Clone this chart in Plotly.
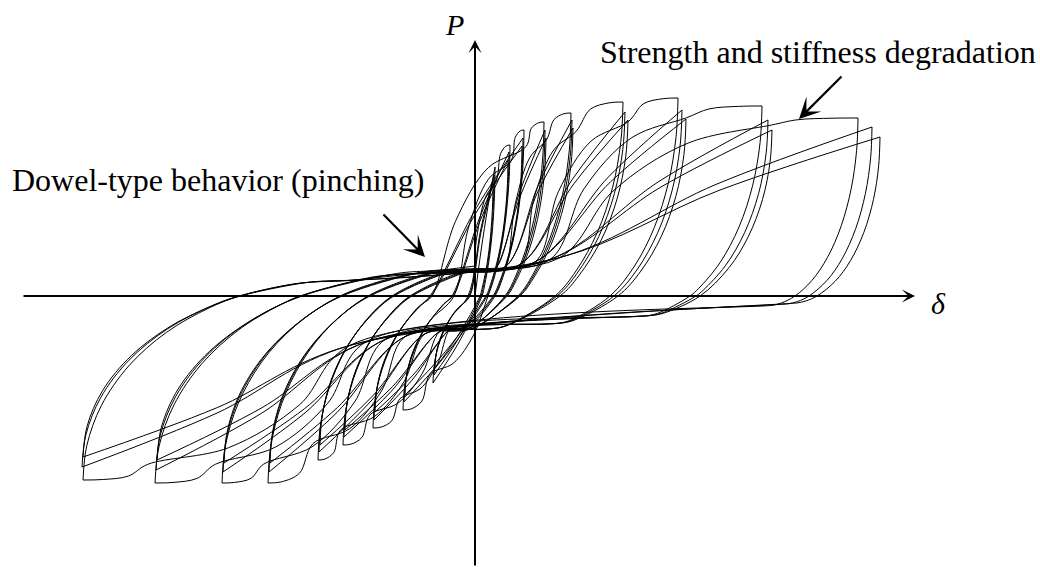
import math
import plotly.graph_objects as go

# Peak displacement / force for each drift level (three cycles per level)
POS_D = [[4.0, 3.8, 3.6], [7.0, 6.8, 6.6], [9.8, 9.6, 9.4], [13.8, 14.0, 14.2],
         [19.2, 19.4, 19.6], [29.6, 30.0, 30.6], [40.6, 41.4, 42.2],
         [57.4, 58.6, 59.4], [76.6, 79.4, 81.0]]
POS_P = [[25.8, 24.2, 22.8], [30.2, 28.8, 27.2], [33.2, 31.6, 30.0], [34.8, 33.2, 31.6],
         [36.6, 35.2, 33.6], [38.8, 36.8, 35.2], [39.6, 37.2, 35.4],
         [38.0, 35.2, 33.2], [35.6, 33.8, 31.8]]
NEG_D = [[-8.4, -8.2, -8.0], [-14.4, -14.2, -14.0], [-20.4, -20.2, -20.0],
         [-26.4, -26.2, -26.0], [-31.4, -31.2, -31.0], [-41.4, -41.2, -41.0],
         [-50.6, -50.4, -50.2], [-64.0, -63.8, -63.6], [-78.4, -78.6, -78.4]]
NEG_P = [[-17.4, -15.8, -14.4], [-22.8, -21.2, -19.8], [-26.4, -24.8, -23.2],
         [-29.8, -28.2, -26.8], [-32.8, -31.2, -29.8], [-37.4, -35.2, -33.4],
         [-37.4, -35.2, -33.4], [-37.4, -34.8, -32.8], [-36.8, -34.2, -32.2]]

# Zero-force crossings of the unloading branches
UNLOAD_POS_D0 = [1.4, 2.6, 4.0, 6.0, 8.6, 16.0, 27.0, 43.0, 64.0]
UNLOAD_NEG_D0 = [-1.4, -4.6, -9.0, -13.0, -16.6, -21.4, -27.0, -35.0, -47.0]

# Pinched (slip) plateaus: force at zero displacement and where reloading leaves them
PINCH_UP_P0 = [4.4, 4.6, 4.8, 5.0, 5.2, 5.4, 5.6, 5.8, 6.0]
PINCH_LO_P0 = [-5.8, -6.0, -6.2, -6.4, -6.6, -6.8, -7.0, -7.2, -7.5]
RELOAD_POS_D = [1.0, 2.0, 3.0, 4.0, 6.0, 9.0, 12.0, 15.0, 17.0]
RELOAD_NEG_D = [-1.5, -3.0, -5.0, -7.0, -10.0, -14.0, -18.0, -22.0, -25.0]

UP_SLOPE = 0.10
LO_SLOPE = 0.095


def half_branch(start, end, xc, p0, slope, dep, prev=None):
    """One half cycle in a frame where motion is towards +delta from a tip with P<0."""
    x0, y0 = start
    xs, ys = [x0], [y0]
    # unloading arc: quarter ellipse that crosses P=0 at xc and lands on the plateau
    x_end = xc
    for _ in range(3):
        yb = p0 + slope * x_end
        h = yb - y0
        s = min(-y0 / h, 0.985)
        th_c = math.asin(s)
        d = (xc - x0) / (1 - math.cos(th_c))
        x_end = x0 + d
    for deg in (10, 22, 35, 48, 60, 72, 82):
        th = math.radians(deg)
        if th < th_c - 0.06:
            xs.append(x0 + d * (1 - math.cos(th)))
            ys.append(y0 + h * math.sin(th))
    xs.append(xc)
    ys.append(0.0)
    if x_end < dep - 0.5:
        for deg in (80, 86, 90):
            th = math.radians(deg)
            if th > th_c + 0.06:
                xs.append(x0 + d * (1 - math.cos(th)))
                ys.append(y0 + h * math.sin(th))
        if end is None:
            xs.append(0.0)
            ys.append(p0)
            return xs, ys
        xs.append(dep)
        ys.append(p0 + slope * dep)
        xr, yr = dep, p0 + slope * dep
    else:
        xr, yr = xc, 0.0
    if end is None:
        return xs, ys
    xt, yt = end
    if prev is not None:
        # first excursion to a new level: rise along the backbone past the
        # previous peak, then a short softening plateau up to the new peak
        xp, yp = prev
        rx = xp + 0.1 * (xt - xp)
        ry = yp * 0.9
        xs += [xr + 0.25 * (rx - xr), xr + 0.6 * (rx - xr), rx,
               rx + 0.3 * (xt - rx), rx + 0.7 * (xt - rx)]
        ys += [yr + 0.5 * (ry - yr), yr + 0.86 * (ry - yr), ry,
               ry + 0.75 * (yt - ry), ry + 0.97 * (yt - ry)]
    else:
        xs.append(xr + 0.5 * (xt - xr))
        ys.append(yr + 0.56 * (yt - yr))
    xs.append(xt)
    ys.append(yt)
    return xs, ys


def mirrored(xs, ys):
    return [-v for v in xs], [-v for v in ys]


paths = []
# virgin loading up to the first positive peak
paths.append(([0.0, 1.2, 2.6, POS_D[0][0]], [0.0, 9.0, 18.0, POS_P[0][0]]))

cycles = [(lv, c) for lv in range(len(POS_D)) for c in range(3)]
for k, (lv, c) in enumerate(cycles):
    ptip = (POS_D[lv][c], POS_P[lv][c])
    ntip = (NEG_D[lv][c], NEG_P[lv][c])
    # positive peak -> negative peak (solved in mirrored frame)
    shift = ptip[0] - POS_D[lv][0]
    prev = None
    if c == 0 and lv > 0:
        prev = (-NEG_D[lv - 1][0], -NEG_P[lv - 1][0])
    xs, ys = half_branch((-ptip[0], -ptip[1]), (-ntip[0], -ntip[1]),
                         -(UNLOAD_POS_D0[lv] + shift), -PINCH_LO_P0[lv], LO_SLOPE,
                         -RELOAD_NEG_D[lv], prev)
    paths.append(mirrored(xs, ys))
    # negative peak -> next positive peak
    shift = ntip[0] - NEG_D[lv][0]
    if k + 1 < len(cycles):
        nlv, nc = cycles[k + 1]
        nxt = (POS_D[nlv][nc], POS_P[nlv][nc])
        prev = (POS_D[nlv - 1][0], POS_P[nlv - 1][0]) if (nc == 0 and nlv > 0) else None
    else:
        nlv, nxt, prev = lv, None, None
    xs, ys = half_branch(ntip, nxt, UNLOAD_NEG_D0[lv] + shift, PINCH_UP_P0[nlv],
                         UP_SLOPE, RELOAD_POS_D[nlv], prev)
    paths.append((xs, ys))

fig = go.Figure()
for xs, ys in paths:
    fig.add_trace(go.Scatter(x=xs, y=ys, mode="lines",
                             line=dict(color="black", width=1, shape="spline", smoothing=1.0),
                             hoverinfo="skip", showlegend=False))

SERIF = "Liberation Serif, Times New Roman, serif"
annotations = [
    # axes drawn as arrows
    dict(x=88.0, y=0, ax=-893, ay=0, showarrow=True, arrowhead=3, arrowsize=1.1,
         arrowwidth=2, arrowcolor="black", text=""),
    dict(x=0, y=51.2, ax=0, ay=527, showarrow=True, arrowhead=3, arrowsize=1.1,
         arrowwidth=2, arrowcolor="black", text=""),
    # callout arrows
    dict(x=-10.0, y=7.8, ax=-43, ay=-44, showarrow=True, arrowhead=3, arrowsize=1.6,
         arrowwidth=2.2, arrowcolor="black", text=""),
    dict(x=64.8, y=35.4, ax=44, ay=-44, showarrow=True, arrowhead=3, arrowsize=1.6,
         arrowwidth=2.2, arrowcolor="black", text=""),
    # labels
    dict(x=-4.2, y=54.4, text="<i>P</i>", showarrow=False,
         font=dict(family=SERIF, size=30, color="black")),
    dict(x=92.6, y=-1.4, text="<i>δ</i>", showarrow=False,
         font=dict(family=SERIF, size=30, color="black")),
    dict(x=-93.0, y=23.2, text="Dowel-type behavior (pinching)", showarrow=False,
         xanchor="left", font=dict(family=SERIF, size=32, color="black")),
    dict(x=24.6, y=48.8, text="Strength and stiffness degradation", showarrow=False,
         xanchor="left", font=dict(family=SERIF, size=32, color="black")),
]

fig.update_layout(
    width=1040, height=567,
    margin=dict(l=0, r=0, t=0, b=0),
    paper_bgcolor="white", plot_bgcolor="white",
    xaxis=dict(range=[-95, 113], visible=False, fixedrange=True),
    yaxis=dict(range=[-54.2, 59.2], visible=False, fixedrange=True),
    annotations=annotations,
    showlegend=False,
)

fig.write_html("out.html")
